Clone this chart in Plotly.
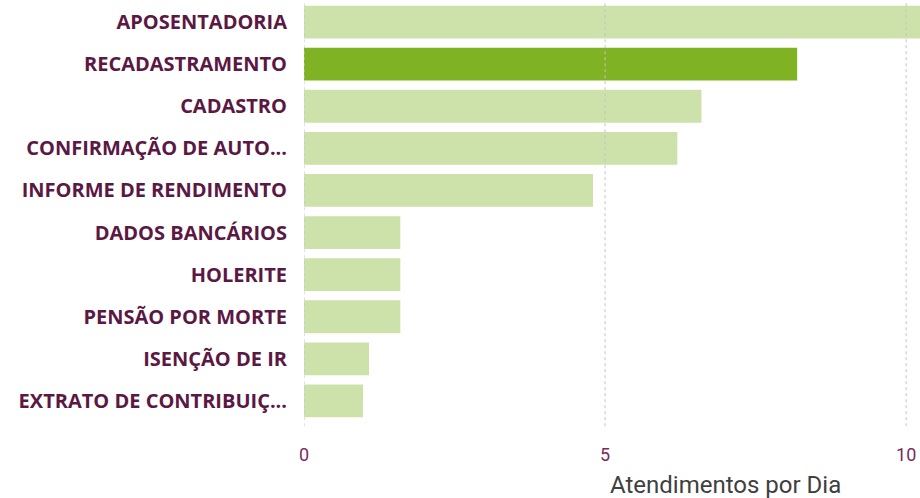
import plotly.graph_objects as go

categorias = [
    "APOSENTADORIA",
    "RECADASTRAMENTO",
    "CADASTRO",
    "CONFIRMAÇÃO DE AUTO...",
    "INFORME DE RENDIMENTO",
    "DADOS BANCÁRIOS",
    "HOLERITE",
    "PENSÃO POR MORTE",
    "ISENÇÃO DE IR",
    "EXTRATO DE CONTRIBUIÇ...",
]
atendimentos = [10.6, 8.19, 6.6, 6.2, 4.8, 1.6, 1.6, 1.6, 1.08, 0.98]
destaque = "RECADASTRAMENTO"
ticks_x = [0, 5, 10]

cor_clara = "#CDE1AA"
cor_destaque = "#80B323"
cores = [cor_destaque if c == destaque else cor_clara for c in categorias]

fig = go.Figure(
    go.Bar(
        x=atendimentos,
        y=categorias,
        orientation="h",
        marker=dict(color=cores, line=dict(width=0)),
    )
)

fig.update_layout(
    width=920,
    height=498,
    margin=dict(l=304, r=0, t=1, b=76, autoexpand=False),
    paper_bgcolor="white",
    plot_bgcolor="white",
    bargap=0.22,
    showlegend=False,
    font=dict(family="Open Sans", color="#5B1843"),
)

fig.update_yaxes(
    autorange="reversed",
    automargin=False,
    showgrid=False,
    ticks="",
    ticklabelstandoff=16,
    tickfont=dict(family="Open Sans", size=20, color="#5B1843", weight="bold"),
)

fig.update_xaxes(
    range=[0, 10.23],
    automargin=False,
    tickvals=ticks_x,
    showgrid=False,
    zeroline=False,
    showline=False,
    ticks="",
    ticklabelstandoff=20,
    tickfont=dict(family="Roboto", size=18, color="#7A2A5C"),
)

# linhas de grade pontilhadas por cima das barras
for t in ticks_x:
    fig.add_shape(
        type="line",
        xref="x",
        yref="paper",
        x0=t,
        x1=t,
        y0=-0.01,
        y1=1.0,
        layer="above",
        line=dict(color="#C4C4C4", width=1, dash="dot"),
    )

fig.add_annotation(
    text="Atendimentos por Dia",
    xref="paper",
    yref="paper",
    x=0.685,
    y=-0.15,
    xanchor="center",
    yanchor="middle",
    showarrow=False,
    font=dict(family="Roboto", size=24, color="#404040"),
)

# tira a margem padrão do body para o gráfico ocupar a janela inteira
fig.write_html(
    "out.html",
    config={"displayModeBar": False},
    post_script="document.body.style.margin='0';",
)
